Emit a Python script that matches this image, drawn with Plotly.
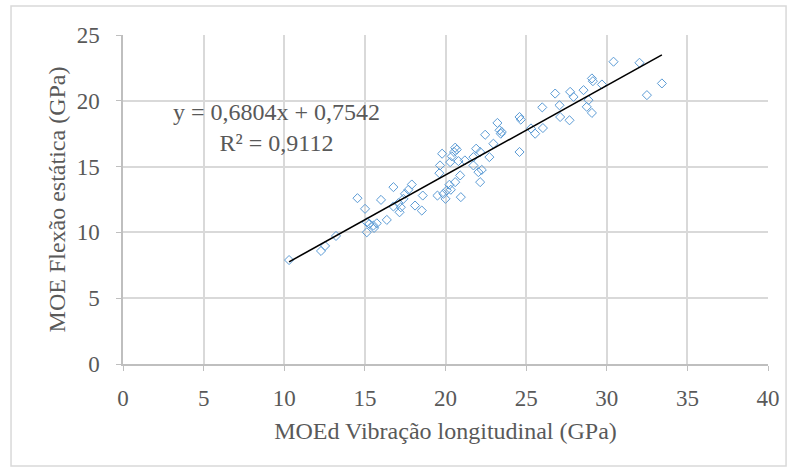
import plotly.graph_objects as go

# MOEd vibração longitudinal (GPa)
moed_x = [10.30, 12.28, 12.53, 13.21, 14.54, 15.01, 15.12, 15.28, 15.12, 15.53,
          15.74, 15.57, 16.00, 16.36, 16.77, 17.91, 17.70, 17.49, 17.39, 17.08,
          17.23, 17.15, 16.77, 18.11, 18.59, 18.53, 19.79, 19.66, 19.62, 20.39,
          20.53, 20.70, 20.60, 20.29, 20.80, 21.20, 21.90, 21.73, 22.04, 20.91,
          20.60, 20.24, 20.08, 19.87, 20.00, 19.50, 20.95, 20.33, 24.59, 24.67,
          25.30, 25.56, 26.00, 24.59, 23.22, 23.35, 23.49, 23.43, 22.46, 22.97,
          22.72, 22.15, 21.73, 22.25, 22.15, 30.42, 29.08, 29.14, 29.70, 28.56,
          27.73, 27.94, 26.80, 28.87, 27.07, 28.76, 29.08, 27.11, 27.69, 26.04,
          32.03, 33.42, 32.49]
# MOE flexão estática (GPa)
moe_y = [7.90, 8.59, 8.97, 9.73, 12.60, 11.79, 10.77, 10.65, 10.01, 10.52,
         10.69, 10.34, 12.47, 10.95, 13.44, 13.64, 13.24, 12.93, 12.55, 12.22,
         11.91, 11.53, 11.97, 12.04, 12.80, 11.66, 15.98, 15.09, 14.50, 15.78,
         16.11, 16.29, 16.44, 15.34, 15.42, 15.47, 16.36, 15.72, 14.58, 14.33,
         13.82, 13.62, 13.19, 12.93, 12.55, 12.80, 12.68, 13.24, 18.77, 18.57,
         17.90, 17.50, 19.50, 16.11, 18.32, 17.76, 17.63, 17.50, 17.42, 16.74,
         15.72, 16.11, 15.09, 14.75, 13.82, 22.97, 21.70, 21.49, 21.24, 20.81,
         20.68, 20.30, 20.55, 20.05, 19.66, 19.54, 19.08, 18.77, 18.52, 17.93,
         22.89, 21.32, 20.43]

slope = 0.6804
intercept = 0.7542
r2 = 0.9112
x_ticks = [0, 5, 10, 15, 20, 25, 30, 35, 40]
y_ticks = [0, 5, 10, 15, 20, 25]

trend_x = [min(moed_x), max(moed_x)]
trend_y = [slope * v + intercept for v in trend_x]

FONT = "'Liberation Serif', 'Times New Roman', 'DejaVu Serif', serif"
GRID = "#d9d9d9"
AXIS = "#bfbfbf"
TXT = "#595959"

fig = go.Figure()
fig.add_trace(go.Scatter(
    x=moed_x, y=moe_y, mode="markers",
    marker=dict(symbol="diamond-open", size=7, color="#5b9bd5",
                line=dict(width=1, color="#5b9bd5")),
    showlegend=False))
fig.add_trace(go.Scatter(
    x=trend_x, y=trend_y, mode="lines",
    line=dict(color="black", width=1.6), showlegend=False))

def fmt(v, nd):
    return f"{v:.{nd}f}".replace(".", ",")

fig.add_annotation(
    x=9.52, y=17.95, xref="x", yref="y",
    text=f"y = {fmt(slope, 4)}x + {fmt(intercept, 4)}<br>R² = {fmt(r2, 4)}",
    showarrow=False, align="center",
    font=dict(family=FONT, size=24, color=TXT))

fig.update_layout(
    width=796, height=470,
    margin=dict(l=123, r=28, t=35, b=106),
    paper_bgcolor="white", plot_bgcolor="white",
    font=dict(family=FONT, size=22, color=TXT),
    xaxis=dict(range=[0, 40], tickvals=x_ticks, showgrid=True, gridcolor=GRID,
               gridwidth=1.5, zeroline=False, showline=True, linecolor=AXIS,
               linewidth=1.5, ticks="outside", ticklen=5, tickcolor=AXIS,
               ticklabelstandoff=8,
               tickfont=dict(family=FONT, size=23, color=TXT),
               title=dict(text="MOEd Vibração longitudinal (GPa)",
                          font=dict(family=FONT, size=24, color=TXT), standoff=12)),
    yaxis=dict(range=[0, 25], tickvals=y_ticks, showgrid=True, gridcolor=GRID,
               gridwidth=1.5, zeroline=False, showline=True, linecolor=AXIS,
               linewidth=1.5, ticks="outside", ticklen=5, tickcolor=AXIS,
               ticklabelstandoff=12,
               tickfont=dict(family=FONT, size=23, color=TXT),
               title=dict(text="MOE Flexão estática (GPa)",
                          font=dict(family=FONT, size=24, color=TXT), standoff=4)),
)

fig.add_shape(type="rect", xref="paper", yref="paper",
              x0=-0.1736, x1=1.028, y0=-0.31, y1=1.088,
              line=dict(color=GRID, width=1.5), fillcolor="rgba(0,0,0,0)",
              layer="below")

fig.write_html("out.html")
